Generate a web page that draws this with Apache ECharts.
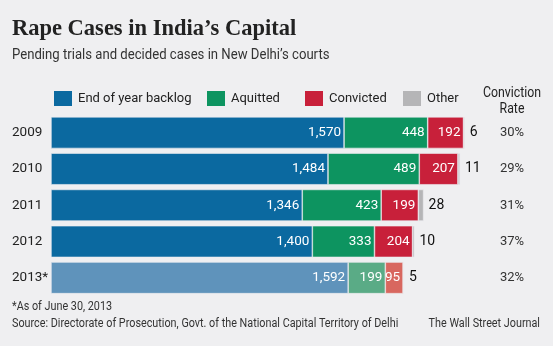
<!DOCTYPE html>
<html><head><meta charset="utf-8">
<script src="https://cdn.jsdelivr.net/npm/echarts@6/dist/echarts.min.js"></script>
<style>html,body{margin:0;padding:0;background:#efeff1;}#c{width:553px;height:346px;}</style>
</head><body><div id="c"></div>
<script>
const years = ['2009','2010','2011','2012','2013*'];
const backlog = [1570, 1484, 1346, 1400, 1592];
const acquitted = [448, 489, 423, 333, 199];
const convicted = [192, 207, 199, 204, 95];
const other = [6, 11, 28, 10, 5];
const rates = ['30%','29%','31%','37%','32%'];
const seriesNames = ['End of year backlog','Aquitted','Convicted','Other'];

const SANS = "'Roboto', sans-serif";
const colors = ['#0b69a0','#0d9460','#c8203a','#b5b5b7'];
const lightColors = ['#5f93bb','#5aab86','#d8675f','#c6c6c8'];

function mk(name, vals, idx) {
  return {
    name: name, type: 'bar', stack: 'total', barCategoryGap: '13%',
    itemStyle: { color: colors[idx], borderColor: '#efeff1', borderWidth: 0.6 },
    data: vals.map((v, i) => i === 4 ? { value: v, itemStyle: { color: lightColors[idx] } } : v),
    label: idx < 3 ? {
      show: true, position: 'insideRight', distance: 3, color: '#fff',
      fontFamily: SANS, fontSize: 13.5,
      formatter: p => p.value.toLocaleString('en-US')
    } : {
      show: true, position: 'right', distance: 5, color: '#111',
      fontFamily: SANS, fontSize: 14
    }
  };
}

const chart = echarts.init(document.getElementById('c'), null, { renderer: 'canvas' });
const legendPos = [52, 205, 303, 401];
chart.setOption({
  backgroundColor: '#efeff1',
  animation: false,
  title: {
    text: 'Rape Cases in India\u2019s Capital',
    left: 12, top: 18, padding: 0,
    textStyle: { fontFamily: "'Liberation Serif', serif", fontWeight: 'bold', fontSize: 22.5, color: '#222' }
  },
  legend: seriesNames.map((n, i) => ({
    data: [n], left: legendPos[i], top: 89, itemWidth: 20, itemHeight: 17,
    icon: 'rect', selectedMode: false, padding: 0,
    textStyle: { fontFamily: SANS, fontSize: 13, color: '#222' }
  })),
  grid: { left: 51, right: 54, top: 114.5, height: 181.5 },
  xAxis: { type: 'value', min: 0, max: 2400, show: false },
  yAxis: [
    { type: 'category', data: years, inverse: true,
      axisLine: { show: false }, axisTick: { show: false },
      axisLabel: { align: 'left', margin: 39, fontFamily: SANS, fontSize: 13.5, color: '#222' } },
    { type: 'category', data: rates, inverse: true, position: 'right',
      axisLine: { show: false }, axisTick: { show: false },
      axisLabel: { align: 'center', margin: 13, fontFamily: SANS, fontSize: 13, color: '#333' } }
  ],
  series: [mk(seriesNames[0], backlog, 0), mk(seriesNames[1], acquitted, 1), mk(seriesNames[2], convicted, 2), mk(seriesNames[3], other, 3)],
  graphic: [
    { type: 'text', x: 12, y: 48, scaleX: 0.876, style: { text: 'Pending trials and decided cases in New Delhi\u2019s courts', fontFamily: SANS, fontSize: 15, fill: '#333' } },
    { type: 'text', x: 512, y: 85, scaleX: 0.88, style: { text: 'Conviction\nRate', align: 'center', fontFamily: SANS, fontSize: 14, lineHeight: 16, fill: '#222' } },
    { type: 'text', x: 12, y: 301, scaleX: 0.9, style: { text: '*As of June 30, 2013', fontFamily: SANS, fontSize: 12, fill: '#333' } },
    { type: 'text', x: 12, y: 318, scaleX: 0.9, style: { text: 'Source: Directorate of Prosecution, Govt. of the National Capital Territory of Delhi', fontFamily: SANS, fontSize: 12, fill: '#333' } },
    { type: 'text', x: 540, y: 318, scaleX: 0.9, style: { text: 'The Wall Street Journal', align: 'right', fontFamily: SANS, fontSize: 12, fill: '#333' } }
  ]
});
</script></body></html>
